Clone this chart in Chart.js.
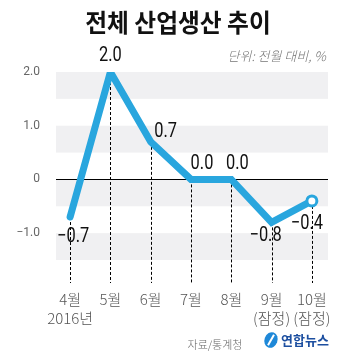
<!DOCTYPE html>
<html>
<head>
<meta charset="utf-8">
<script src="https://cdn.jsdelivr.net/npm/chart.js@4"></script>
<style>
  html, body { margin: 0; padding: 0; background: #fff; }
  #wrap { width: 363px; height: 362px; }
</style>
</head>
<body>
<div id="wrap"><canvas id="prodChart" width="363" height="362"></canvas></div>
<script>
// data
const months = ["4월", "5월", "6월", "7월", "8월", "9월", "10월"];
const subLabels = ["2016년", "", "", "", "", "(잠정)", "(잠정)"];
const growth = [-0.7, 2.0, 0.7, 0.0, 0.0, -0.8, -0.4];
const yTicks = [-1, 0, 1, 2];
// label offsets (px) from each point
const labelDx = [3, 0, 15, 11, 6, -6, -5];
const labelDy = [20, -16, -10, -15, -15, 14, 23];

const blue = "#29a6de";
const KR = '"Noto Sans CJK KR", "Noto Sans", sans-serif';
const NUM = '"Roboto", "Liberation Sans", sans-serif';

function fmt(v) {
  if (v === 0) return "0.0";
  return (v < 0 ? "\u2212" : "") + Math.abs(v).toFixed(1);
}

const points = growth.map((v, i) => ({ x: i, y: v }));

// background bands, zero line, dashed drop lines
const backdrop = {
  id: "backdrop",
  beforeDatasetsDraw(chart) {
    const { ctx, chartArea: a, scales: { x, y } } = chart;
    ctx.save();
    ctx.fillStyle = "#f0f0f2";
    [[2, 1.5], [1, 0.5], [0, -0.5], [-1, -1.5]].forEach(([t, b]) => {
      const y1 = y.getPixelForValue(t), y2 = y.getPixelForValue(b);
      ctx.fillRect(a.left, y1, a.right - a.left, y2 - y1);
    });
    ctx.strokeStyle = "#000";
    ctx.lineWidth = 1;
    const y0 = Math.round(y.getPixelForValue(0)) + 0.5;
    ctx.beginPath();
    ctx.moveTo(a.left, y0);
    ctx.lineTo(a.right, y0);
    ctx.stroke();
    ctx.setLineDash([3, 2]);
    growth.forEach((v, i) => {
      const px = Math.round(x.getPixelForValue(i)) + 0.5;
      ctx.beginPath();
      ctx.moveTo(px, y.getPixelForValue(v));
      ctx.lineTo(px, a.bottom + 23);
      ctx.stroke();
    });
    ctx.restore();
  }
};

// value labels and text
const texts = {
  id: "texts",
  afterDatasetsDraw(chart) {
    const { ctx, scales: { x, y } } = chart;
    ctx.save();
    ctx.fillStyle = "#111";
    ctx.textAlign = "center";
    ctx.textBaseline = "middle";
    ctx.font = "20px " + NUM;
    growth.forEach((v, i) => {
      ctx.save();
      ctx.translate(x.getPixelForValue(i) + labelDx[i], y.getPixelForValue(v) + labelDy[i]);
      ctx.scale(0.82, 1);
      ctx.fillText(fmt(v), 0, 0);
      ctx.restore();
    });

    ctx.save();
    ctx.translate(178, 22);
    ctx.scale(0.95, 1);
    ctx.font = "bold 25px " + KR;
    ctx.fillStyle = "#111";
    ctx.fillText("전체 산업생산 추이", 0, 0);
    ctx.restore();

    ctx.font = "italic 300 13px " + KR;
    ctx.fillStyle = "#777";
    ctx.textAlign = "right";
    ctx.fillText("단위: 전월 대비, %", 326, 56);

    ctx.font = "300 11px " + KR;
    ctx.fillStyle = "#666";
    ctx.textAlign = "center";
    ctx.fillText("자료/통계청", 215, 345);

    // logo
    ctx.save();
    ctx.translate(271, 340);
    ctx.rotate(0.35);
    ctx.fillStyle = "#1e88d8";
    ctx.beginPath();
    ctx.ellipse(0, 0, 6.5, 8, 0, 0, Math.PI * 2);
    ctx.fill();
    ctx.strokeStyle = "#fff";
    ctx.lineWidth = 2;
    ctx.beginPath();
    ctx.moveTo(1, -6);
    ctx.lineTo(-1, 6);
    ctx.stroke();
    ctx.restore();
    ctx.font = "bold 13px " + KR;
    ctx.fillStyle = "#1d4fa0";
    ctx.textAlign = "left";
    ctx.fillText("연합뉴스", 281, 340);
    ctx.restore();
  }
};

const config = {
  type: "line",
  data: {
    datasets: [{
      data: points,
      borderColor: blue,
      borderWidth: 7,
      borderCapStyle: "round",
      borderJoinStyle: "miter",
      tension: 0,
      pointRadius: growth.map((v, i) => i === growth.length - 1 ? 5 : 0),
      pointBackgroundColor: "#fff",
      pointBorderColor: blue,
      pointBorderWidth: 3
    }]
  },
  options: {
    responsive: false,
    animation: false,
    layout: { padding: { top: 72, right: 35, left: 0, bottom: 0 } },
    plugins: { legend: { display: false }, tooltip: { enabled: false } },
    scales: {
      x: {
        type: "linear",
        min: -0.35,
        max: 6.4,
        grid: { display: false },
        border: { display: false },
        afterBuildTicks: s => { s.ticks = months.map((m, i) => ({ value: i })); },
        afterFit: s => { s.height = 102; },
        ticks: {
          autoSkip: false,
          maxRotation: 0,
          padding: 22,
          color: "#555",
          font: { family: KR, size: 15, weight: "300", lineHeight: 1.25 },
          callback: v => subLabels[v] ? [months[v], subLabels[v]] : months[v]
        }
      },
      y: {
        min: -1.5,
        max: 2,
        grid: { display: false },
        border: { display: false },
        afterBuildTicks: s => { s.ticks = yTicks.map(v => ({ value: v })); },
        afterFit: s => { s.width = 56; },
        ticks: {
          padding: 8,
          color: "#666",
          font: { family: NUM, size: 12 },
          callback: v => v === 0 ? "0" : (v < 0 ? "\u2212" : "") + Math.abs(v).toFixed(1)
        }
      }
    }
  },
  plugins: [backdrop, texts]
};

const ctx = document.getElementById("prodChart").getContext("2d");
const prodChart = new Chart(ctx, config);
</script>
</body>
</html>
